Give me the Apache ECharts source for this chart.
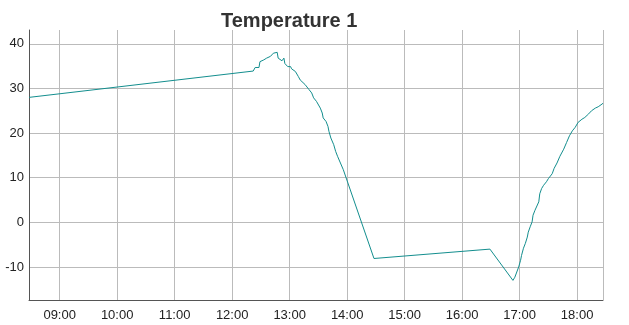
<!DOCTYPE html>
<html><head><meta charset="utf-8">
<script src="https://cdn.jsdelivr.net/npm/echarts@6/dist/echarts.min.js"></script>
<style>html,body{margin:0;padding:0;background:#fff}#c{width:629px;height:325px}</style>
</head><body><div id="c"></div>
<script>
const day = '2024-06-01 ';
const times = ['08:28','12:22','12:24','12:28','12:29','12:33','12:36','12:40','12:43','12:45','12:47','12:48','12:50','12:52','12:54','12:55','12:58','13:01','13:02','13:06','13:09','13:11','13:13','13:16','13:20','13:23','13:25','13:28','13:32','13:34','13:35','13:38','13:40','13:41','13:43','13:46','13:48','13:50','13:53','13:56','14:28','16:29','16:53','16:55','16:59','17:01','17:02','17:04','17:06','17:08','17:09','17:11','17:13','17:14','17:16','17:18','17:20','17:21','17:23','17:25','17:28','17:30','17:34','17:36','17:39','17:42','17:46','17:49','17:52','17:55','17:58','18:01','18:05','18:08','18:12','18:15','18:19','18:22','18:26','18:27'];
const temps = [28.0,33.9,34.7,34.7,36.0,36.4,36.8,37.2,37.9,37.5,38.1,36.8,37.2,36.2,36.8,35.6,34.9,34.9,34.4,33.8,32.7,31.9,31.6,30.9,29.8,29.0,27.9,27.1,25.6,24.5,23.4,22.6,21.5,20.4,18.9,17.4,15.9,14.8,13.3,11.8,-8.1,-6.0,-13.0,-12.3,-10.0,-8.5,-7.4,-5.8,-4.7,-3.3,-2.2,-1.0,0.1,1.6,2.7,3.1,4.6,6.4,7.6,8.3,9.1,9.8,10.9,12.1,13.3,14.8,16.4,17.9,19.4,20.5,21.3,22.4,23.1,23.5,24.3,25.0,25.6,25.9,26.5,26.7];
const xMin = '08:28', xMax = '18:27';
const yMin = -17.4, yMax = 43.1;
const title = 'Temperature 1';

const chart = echarts.init(document.getElementById('c'), null, {renderer:'canvas'});
const font = 'Liberation Sans, Arial, Helvetica, sans-serif';
chart.setOption({
  animation:false,
  backgroundColor:'#fff',
  title:{text:title,left:216,top:6,textStyle:{fontFamily:font,fontSize:20,fontWeight:'bold',color:'#333'}},
  grid:{left:29,right:26,top:30,bottom:25,containLabel:false},
  xAxis:{type:'time',min:day+xMin,max:day+xMax,
    minInterval:3600000,maxInterval:3600000,
    axisLine:{onZero:false,lineStyle:{color:'#555'}},axisTick:{show:false},
    splitLine:{show:true,lineStyle:{color:'#bbb'}},
    axisLabel:{formatter:'{HH}:{mm}',fontFamily:font,fontSize:13,color:'#222',margin:9,showMinLabel:false,showMaxLabel:false,hideOverlap:false}},
  yAxis:{type:'value',min:yMin,max:yMax,splitNumber:6,
    axisLine:{show:true,lineStyle:{color:'#555'}},axisTick:{show:false},
    splitLine:{show:true,showMinLine:false,showMaxLine:false,lineStyle:{color:'#bbb'}},
    axisLabel:{fontFamily:font,fontSize:13,color:'#222',margin:5,showMinLabel:false,showMaxLabel:false}},
  series:[{type:'line',data:times.map((t,i)=>[day+t,temps[i]]),showSymbol:false,
    lineStyle:{color:'#138e8e',width:1},itemStyle:{color:'#138e8e'}}]
});
</script></body></html>
